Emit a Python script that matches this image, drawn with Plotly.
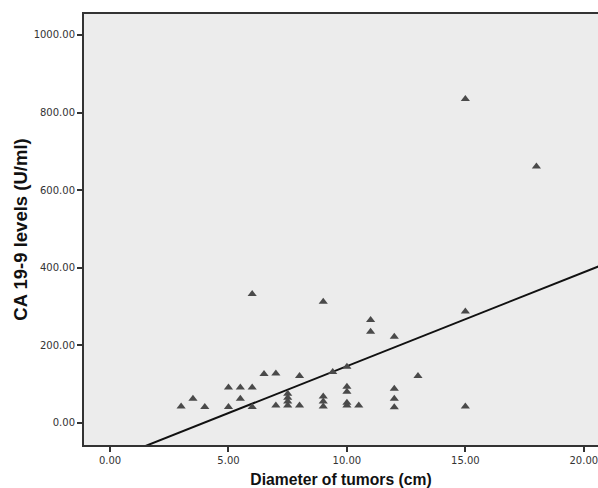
import plotly.graph_objects as go

# Data
diameter_cm = [3, 3.5, 4, 5, 5, 5.5, 5.5, 6, 6, 6, 6.5, 7, 7,
               7.5, 7.5, 7.5, 7.5, 8, 8,
               9, 9, 9, 9, 9.4, 10, 10, 10, 10, 10, 10.5,
               11, 11, 12, 12, 12, 12, 13, 15, 15, 15, 18]
ca199_level = [42, 62, 41, 91, 41, 91, 62, 91, 41, 332, 126, 127, 45,
               45, 55, 65, 75, 121, 45,
               312, 68, 55, 42, 131, 145, 93, 80, 52, 45, 45,
               265, 235, 222, 88, 62, 40, 121, 287, 42, 835, 661]

# Fit line (slope / intercept)
fit_intercept = -95.7
fit_slope = 24.2
fit_x = [1.0, 21.5]
fit_y = [fit_intercept + fit_slope * v for v in fit_x]

x_ticks = [0, 5, 10, 15, 20]
y_ticks = [0, 200, 400, 600, 800, 1000]

fig = go.Figure()
fig.add_trace(go.Scatter(
    x=fit_x, y=fit_y, mode="lines",
    line=dict(color="#111111", width=2), hoverinfo="skip", showlegend=False))
fig.add_trace(go.Scatter(
    x=diameter_cm, y=ca199_level, mode="markers",
    marker=dict(symbol="triangle-up", size=8, color="#4a4a4a",
                line=dict(width=0)),
    showlegend=False))

tickfont = dict(family="DejaVu Sans", size=10, color="#333333")

fig.update_layout(
    width=598, height=488,
    margin=dict(l=84, r=0, t=14, b=43),
    paper_bgcolor="white",
    plot_bgcolor="#ececec",
    xaxis=dict(
        range=[-1.1, 20.6], tickvals=x_ticks, tickformat=".2f",
        showgrid=False, zeroline=False, automargin=False,
        ticklabeloverflow="allow",
        showline=True, linecolor="#333333", linewidth=2, mirror=True,
        ticks="outside", ticklen=5, tickwidth=1.5, tickcolor="#333333",
        tickfont=tickfont,
        title=dict(text="<b>Diameter of tumors (cm)</b>",
                   font=dict(family="Liberation Sans", size=15.7, color="#111111"),
                   standoff=9),
    ),
    yaxis=dict(
        range=[-57, 1054], tickvals=y_ticks, tickformat=".2f",
        showgrid=False, zeroline=False, automargin=False,
        showline=True, linecolor="#333333", linewidth=2,
        ticks="outside", ticklen=5, tickwidth=1.5, tickcolor="#333333",
        tickfont=tickfont,
        title=dict(text="<b>CA 19-9 levels (U/ml)</b>",
                   font=dict(family="Liberation Sans", size=18.5, color="#111111"),
                   standoff=1),
    ),
)

# Remove the default page margin so the figure fills the window exactly
fig.write_html("out.html",
               config={"displayModeBar": False},
               post_script="document.body.style.margin='0px';"
                           "document.body.style.overflow='hidden';")
